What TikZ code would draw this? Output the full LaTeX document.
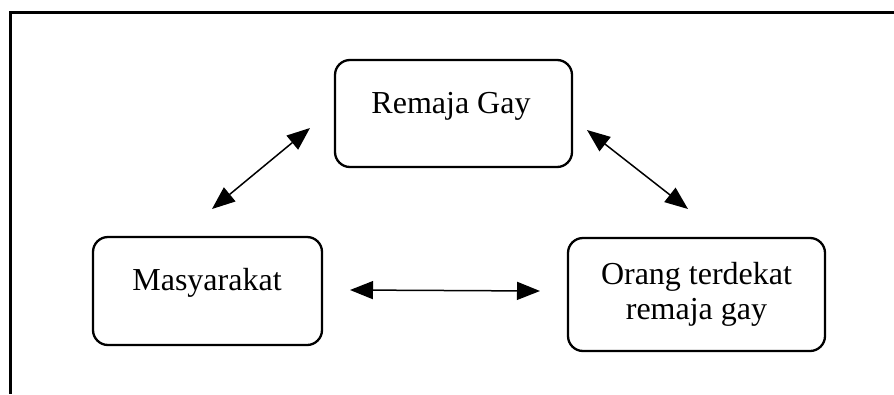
\documentclass[tikz,border=0pt]{standalone}
\usepackage{fontspec}
\setmainfont{Liberation Serif}
\usetikzlibrary{arrows.meta}
\tikzset{
  box/.style={draw, line width=2.3pt, rounded corners=15pt, inner sep=0pt},
  txt/.style={anchor=base, inner sep=0pt, font=\fontsize{32}{35}\selectfont},
  link/.style={line width=1.5pt, {Triangle[length=23pt,width=18pt]}-{Triangle[length=23pt,width=18pt]}},
  frame/.style={line width=3pt}
}
\begin{document}
\begin{tikzpicture}[x=1pt,y=-1pt]
\useasboundingbox (0,0) rectangle (894,394);
% outer frame
\coordinate (fTL) at (10,12);
\coordinate (fTR) at (894,12);
\coordinate (fBL) at (10,394);
\draw[frame] (fTR) -- (fTL) -- (fBL);
% boxes
\node[box, minimum width=237pt, minimum height=107pt] (remaja) at (453.5,113.5) {};
\node[box, minimum width=229pt, minimum height=108pt] (masy) at (207.5,291) {};
\node[box, minimum width=257pt, minimum height=113pt] (orang) at (696.5,294.5) {};
% texts
\node[txt] (tRemaja) at (451,113) {Remaja Gay};
\node[txt] (tMasy) at (207,290) {Masyarakat};
\node[txt] (tOrang1) at (696.5,284) {Orang terdekat};
\node[txt] (tOrang2) at (696.5,319) {remaja gay};
% arrow ends
\coordinate (a1) at (212,209);
\coordinate (a2) at (310,128);
\coordinate (b1) at (587,130);
\coordinate (b2) at (688,209);
\coordinate (c1) at (350,290);
\coordinate (c2) at (540,291);
\draw[link] (a1) -- (a2);
\draw[link] (b1) -- (b2);
\draw[link] (c1) -- (c2);
\end{tikzpicture}
\end{document}
